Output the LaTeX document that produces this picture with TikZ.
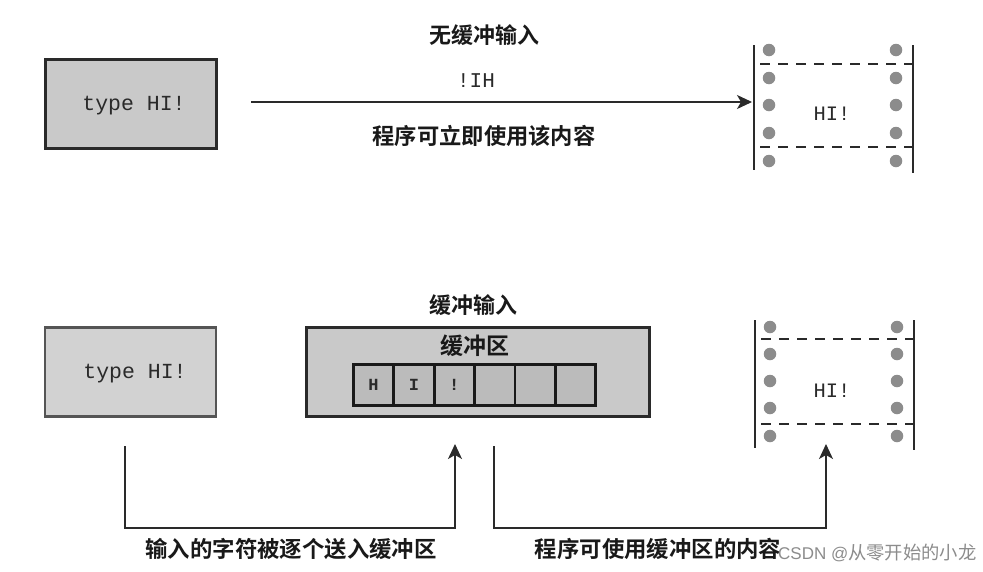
\documentclass[tikz,border=0pt]{standalone}
\usepackage{fontspec}
\usetikzlibrary{arrows.meta}
\setmonofont{Liberation Mono}
\newfontfamily\cjk{Noto Sans CJK SC}
\newfontfamily\cjkb{Noto Sans CJK SC Bold}
\setsansfont{Liberation Sans}
\definecolor{boxfill}{HTML}{C9C9C9}
\definecolor{boxfillb}{HTML}{D2D2D2}
\definecolor{ink}{HTML}{2A2A2A}
\definecolor{dotc}{HTML}{8C8C8C}
\tikzset{
  x=1pt,y=-1pt,
  box/.style={draw=ink,line width=3pt,fill=boxfill,minimum width=171pt,minimum height=89pt,inner sep=0pt},
  softbox/.style={box,draw=ink!80,fill=boxfillb,line width=2.2pt},
  bufbox/.style={draw=ink,line width=3pt,fill=boxfill,minimum width=343pt,minimum height=89pt,inner sep=0pt},
  cellbox/.style={draw=black!90,line width=2.8pt,fill=boxfill!93!black,minimum width=40.4pt,minimum height=41pt,inner sep=0pt,font=\ttfamily\bfseries\fontsize{17}{18}\selectfont,text=ink},
  title/.style={inner sep=0pt,font=\cjkb\fontsize{22}{24}\selectfont,text=black!90},
  mono/.style={inner sep=0pt,font=\ttfamily\fontsize{21}{23}\selectfont,text=ink},
  screentext/.style={inner sep=0pt,font=\ttfamily\fontsize{20.5}{22}\selectfont,text=ink},
  caption/.style={inner sep=0pt,font=\cjkb\fontsize{22.4}{24}\selectfont,text=black!90},
  rail/.style={draw=ink,line width=1.5pt},
  perf/.style={draw=ink,line width=1.5pt,dash pattern=on 10pt off 8pt},
  dotmark/.style={circle,fill=dotc,minimum size=12.5pt,inner sep=0pt},
  conn/.style={draw=ink,line width=1.2pt},
  connarrow/.style={conn,-{Stealth[length=15pt,width=14pt,inset=4pt]}},
}
\begin{document}
\begin{tikzpicture}
\useasboundingbox (0,0) rectangle (983,571);
\fill[white] (0,0) rectangle (983,571);

% top row
\node[box] (inA) at (130.5,103.5) {};
\node[mono,font=\ttfamily\fontsize{21.5}{23}\selectfont] (inAt) at (134,106) {type HI!};
\node[title] (t1) at (484,35) {无缓冲输入};
\node[mono] (chars) at (476,81) {!IH};
\node[title,font=\cjkb\fontsize{22.3}{24}\selectfont] (t2) at (484,136) {程序可立即使用该内容};
\node[screentext] (scrA) at (832,114) {HI!};

\coordinate (a1s) at (251,102);
\coordinate (a1e) at (752,102);
\draw[connarrow] (a1s) -- (a1e);

\draw[rail] (754,45) -- (754,170);
\draw[rail] (913,45) -- (913,173);
\draw[perf] (760,64) -- (913,64);
\draw[perf] (760,147) -- (913,147);
\foreach \yy in {50,78,105,133,161}{
  \node[dotmark] at (769,\yy) {};
  \node[dotmark] at (896,\yy) {};
}

% bottom row
\node[title] (t3) at (473,305) {缓冲输入};
\node[softbox] (inB) at (130.5,372) {};
\node[mono,font=\ttfamily\fontsize{21.5}{23}\selectfont] (inBt) at (135,373.5) {type HI!};
\node[bufbox] (buf) at (477.5,371.5) {};
\node[title,font=\cjkb\fontsize{23}{25}\selectfont] (buft) at (475,346) {缓冲区};
\node[cellbox] (c1) at (373.5,385) {H};
\node[cellbox] (c2) at (413.9,385) {I};
\node[cellbox] (c3) at (454.3,385) {!};
\node[cellbox] (c4) at (494.7,385) {};
\node[cellbox] (c5) at (535.1,385) {};
\node[cellbox] (c6) at (575.5,385) {};
\node[screentext] (scrB) at (832,391) {HI!};

\draw[rail] (755,320) -- (755,448);
\draw[rail] (914,320) -- (914,450);
\draw[perf] (761,339) -- (914,339);
\draw[perf] (761,424) -- (914,424);
\foreach \yy in {327,354,381,408,436}{
  \node[dotmark] at (770,\yy) {};
  \node[dotmark] at (897,\yy) {};
}

\coordinate (b1s) at (125,446);
\coordinate (b1e) at (455,444);
\coordinate (b2s) at (494,446);
\coordinate (b2e) at (826,444);
\draw[connarrow] (b1s) -- (125,528) -- (455,528) -- (b1e);
\draw[connarrow] (b2s) -- (494,528) -- (826,528) -- (b2e);

\node[caption] (l1) at (291,549) {输入的字符被逐个送入缓冲区};
\node[caption] (l2) at (658,549) {程序可使用缓冲区的内容};
\node[inner sep=0pt,anchor=west,text=black!45,font=\sffamily\fontsize{17}{21}\selectfont] (wm) at (778,553) {CSDN @{\cjk\fontsize{18.3}{21}\selectfont 从零开始的小龙}};
\end{tikzpicture}
\end{document}
